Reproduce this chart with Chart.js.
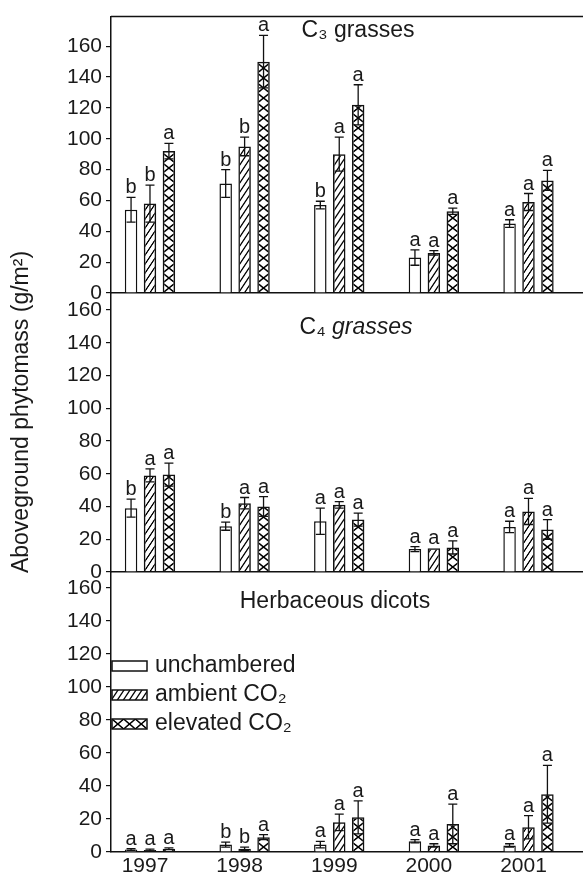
<!DOCTYPE html>
<html><head><meta charset="utf-8">
<script src="https://cdn.jsdelivr.net/npm/chart.js@4.4.1/dist/chart.umd.min.js"></script>
<style>
html,body{margin:0;padding:0;background:#fff;}
#wrap{position:relative;width:583px;height:878px;background:#fff;}
#wrap canvas{position:absolute;left:0;top:0;}
</style></head><body>
<div id="wrap">
<canvas id="c1" width="583" height="878"></canvas>
<canvas id="c2" width="583" height="878"></canvas>
<canvas id="c3" width="583" height="878"></canvas>
</div>
<script>
// ---------- DATA ----------
const years = [1997, 1998, 1999, 2000, 2001];
const yTickValues = [0, 20, 40, 60, 80, 100, 120, 140, 160];
const seriesLabels = ['unchambered', 'ambient CO\u2082', 'elevated CO\u2082'];
const yAxisTitle = 'Aboveground phytomass (g/m\u00B2)';

// C3 grasses
const c3Unchambered = [54, 71, 57, 23, 45];
const c3Ambient     = [58, 95, 90, 26, 59];
const c3Elevated    = [92, 150, 122, 53, 73];
const c3UnchamberedErr = [8, 9, 2.5, 5, 2.5];
const c3AmbientErr     = [12, 6, 11, 1.5, 5.5];
const c3ElevatedErr    = [5, 17, 13, 2, 6.5];
const c3UnchamberedSig = ['b', 'b', 'b', 'a', 'a'];
const c3AmbientSig     = ['b', 'b', 'a', 'a', 'a'];
const c3ElevatedSig    = ['a', 'a', 'a', 'a', 'a'];

// C4 grasses
const c4Unchambered = [39, 28, 31, 14, 27.5];
const c4Ambient     = [59, 42, 41, 14.5, 37];
const c4Elevated    = [59.5, 40, 32, 15, 26];
const c4UnchamberedErr = [5.5, 2.5, 8, 1.5, 3.5];
const c4AmbientErr     = [4, 3.5, 2, 0, 8];
const c4ElevatedErr    = [7, 6, 4, 4, 6];
const c4UnchamberedSig = ['b', 'b', 'a', 'a', 'a'];
const c4AmbientSig     = ['a', 'a', 'a', 'a', 'a'];
const c4ElevatedSig    = ['a', 'a', 'a', 'a', 'a'];

// Herbaceous dicots
const dicUnchambered = [1.5, 4.5, 4.5, 6.5, 4];
const dicAmbient     = [1.2, 2, 18, 4, 15];
const dicElevated    = [2, 9, 21, 17, 35];
const dicUnchamberedErr = [0.5, 1.5, 2, 1, 1];
const dicAmbientErr     = [0.5, 1, 5, 1, 7];
const dicElevatedErr    = [0.5, 1.5, 10, 12, 17.5];
const dicUnchamberedSig = ['a', 'b', 'a', 'a', 'a'];
const dicAmbientSig     = ['a', 'b', 'a', 'a', 'a'];
const dicElevatedSig    = ['a', 'a', 'a', 'a', 'a'];

// ---------- STYLE / LAYOUT ----------
const FONT = "'Liberation Sans', Arial, Helvetica, sans-serif";
const INK = '#1a1a1a';
const CAT_PCT = 0.6, BAR_PCT = 0.66;
const AXIS_LEFT = 111;
const X_MIN = 1996.588, X_MAX = 2001.576;
Chart.defaults.font.family = FONT;
Chart.defaults.color = INK;

// pattern tiles (drawn at 2x)
function makeTile(kind) {
  const c = document.createElement('canvas');
  const g = c.getContext('2d');
  g.strokeStyle = '#111';
  g.lineCap = 'butt';
  if (kind === 'amb') {
    c.width = 24; c.height = 18;
    g.lineWidth = 2.6;
    [-36, -18, 0, 18, 36, 54, 72].forEach(cc => {
      g.beginPath(); g.moveTo(-2, cc + 3); g.lineTo(26, cc - 39); g.stroke();
    });
  } else {
    c.width = 26; c.height = 20;
    g.lineWidth = 3;
    for (const dx of [-26, 0, 26]) for (const dy of [-20, 0, 20]) {
      g.beginPath(); g.moveTo(dx, dy); g.lineTo(dx + 26, dy + 20); g.stroke();
      g.beginPath(); g.moveTo(dx + 26, dy); g.lineTo(dx, dy + 20); g.stroke();
    }
  }
  return c;
}
const tiles = { amb: makeTile('amb'), elev: makeTile('elev') };
function makePattern(ctx, kind, left, top, w) {
  const p = ctx.createPattern(tiles[kind], 'repeat');
  const sx = kind === 'elev' ? w / 26 : 0.5;
  p.setTransform(new DOMMatrix([sx, 0, 0, 0.5, left, top]));
  return p;
}

function barFill(kind) {
  return (c) => {
    if (kind === 'none') return '#ffffff';
    const chart = c.chart, xs = chart.scales.x, ys = chart.scales.y;
    if (c.type !== 'data' || !xs || !ys) return '#ffffff';
    const px = xs.getPixelForValue(years[c.dataIndex]);
    const step = xs.getPixelForValue(years[1]) - xs.getPixelForValue(years[0]);
    const chunk = step * CAT_PCT / 3;
    const w = chunk * BAR_PCT;
    const center = px - 1.5 * chunk + chunk * (c.datasetIndex + 0.5);
    return makePattern(chart.ctx, kind, center - w / 2, ys.getPixelForValue(0), w);
  };
}

const kinds = ['none', 'amb', 'elev'];

function makeDatasets(vals, errs, sigs) {
  return vals.map((arr, k) => ({
    label: seriesLabels[k],
    data: arr.map((v, i) => ({ x: years[i], y: v })),
    errors: errs[k],
    letters: sigs[k],
    backgroundColor: barFill(kinds[k]),
    borderColor: '#111',
    borderWidth: 1.5,
    borderSkipped: 'bottom',
    categoryPercentage: CAT_PCT,
    barPercentage: BAR_PCT
  }));
}

const errorBarPlugin = {
  id: 'errorBars',
  afterDatasetsDraw(chart) {
    const ctx = chart.ctx, ys = chart.scales.y;
    chart.data.datasets.forEach((ds, di) => {
      const meta = chart.getDatasetMeta(di);
      meta.data.forEach((bar, i) => {
        const v = ds.data[i].y, e = ds.errors[i];
        const x = bar.x;
        const yTop = ys.getPixelForValue(v + e);
        const yBot = ys.getPixelForValue(Math.max(0, v - e));
        ctx.save();
        ctx.strokeStyle = '#111'; ctx.lineWidth = 1.3;
        if (e > 0) {
          ctx.beginPath();
          ctx.moveTo(x, yBot); ctx.lineTo(x, yTop);
          ctx.moveTo(x - 4.5, yTop); ctx.lineTo(x + 4.5, yTop);
          ctx.moveTo(x - 4.5, yBot); ctx.lineTo(x + 4.5, yBot);
          ctx.stroke();
        }
        ctx.fillStyle = INK;
        ctx.font = '20px ' + FONT;
        ctx.textAlign = 'center'; ctx.textBaseline = 'alphabetic';
        ctx.fillText(ds.letters[i], x, yTop - 4);
        ctx.restore();
      });
    });
  }
};

const framePlugin = {
  id: 'frame',
  afterDraw(chart, args, opts) {
    const ctx = chart.ctx, a = chart.chartArea;
    ctx.save();
    ctx.fillStyle = INK;
    ctx.textBaseline = 'middle';
    if (opts.title) {
      let total = 0;
      opts.title.forEach(s => { ctx.font = s.font; total += ctx.measureText(s.text).width; });
      let x = opts.titleX - total / 2;
      opts.title.forEach(s => {
        ctx.font = s.font; ctx.textAlign = 'left';
        ctx.fillText(s.text, x, opts.titleY + (s.dy || 0));
        x += ctx.measureText(s.text).width;
      });
    }
    if (opts.topBorder) {
      ctx.strokeStyle = '#111'; ctx.lineWidth = 1.5;
      ctx.beginPath(); ctx.moveTo(a.left, a.top); ctx.lineTo(a.right, a.top); ctx.stroke();
    }
    if (opts.yTitle) {
      ctx.save();
      ctx.translate(opts.yTitle.x, opts.yTitle.y);
      ctx.rotate(-Math.PI / 2);
      ctx.font = '23px ' + FONT; ctx.textAlign = 'center';
      ctx.fillText(opts.yTitle.text, 0, 0);
      ctx.restore();
    }
    if (opts.legend) {
      const L = opts.legend;
      seriesLabels.forEach((lab, k) => {
        const cy = L.y + k * L.gap;
        const x0 = L.x, y0 = cy - L.h / 2;
        if (kinds[k] === 'none') ctx.fillStyle = '#fff';
        else ctx.fillStyle = makePattern(ctx, kinds[k], x0, y0, L.w / 3);
        ctx.fillRect(x0, y0, L.w, L.h);
        ctx.strokeStyle = '#111'; ctx.lineWidth = 1.5;
        ctx.strokeRect(x0, y0, L.w, L.h);
        ctx.fillStyle = INK; ctx.font = '23px ' + FONT; ctx.textAlign = 'left';
        ctx.fillText(lab, x0 + L.w + 8, cy);
      });
    }
    ctx.restore();
  }
};

function buildPanel(id, vals, errs, sigs, top, bottom, yMax, showX, frameOpts) {
  const xH = showX ? 26 : 0;
  return new Chart(document.getElementById(id), {
    type: 'bar',
    data: { datasets: makeDatasets(vals, errs, sigs) },
    options: {
      responsive: false, animation: false, devicePixelRatio: 1, events: [],
      layout: { padding: { left: 0, right: 0, top: top, bottom: 878 - bottom - xH } },
      plugins: { legend: { display: false }, tooltip: { enabled: false }, frame: frameOpts },
      scales: {
        x: {
          type: 'linear', min: X_MIN, max: X_MAX, offset: false,
          afterBuildTicks: s => { s.ticks = years.map(v => ({ value: v })); },
          afterFit: s => { s.height = xH; },
          ticks: { display: showX, autoSkip: false, maxRotation: 0, padding: 2, labelOffset: -5,
                   font: { size: 21 }, color: INK, callback: v => String(v) },
          grid: { display: false, drawTicks: false, offset: false },
          border: { display: true, color: '#111', width: 1.5 }
        },
        y: {
          min: 0, max: yMax,
          afterBuildTicks: s => { s.ticks = yTickValues.map(v => ({ value: v })); },
          afterFit: s => { s.width = AXIS_LEFT; },
          ticks: { font: { size: 21 }, color: INK, padding: 4 },
          grid: { display: true, drawOnChartArea: false, drawTicks: true, tickLength: 5, color: '#111', lineWidth: 1.2 },
          border: { display: true, color: '#111', width: 1.5 }
        }
      }
    },
    plugins: [errorBarPlugin, framePlugin]
  });
}

buildPanel('c1',
  [c3Unchambered, c3Ambient, c3Elevated],
  [c3UnchamberedErr, c3AmbientErr, c3ElevatedErr],
  [c3UnchamberedSig, c3AmbientSig, c3ElevatedSig],
  13, 293, 179.2, false,
  { topBorder: true, titleX: 358, titleY: 31,
    title: [{ text: 'C\u2083 grasses', font: '23px ' + FONT }] });

buildPanel('c2',
  [c4Unchambered, c4Ambient, c4Elevated],
  [c4UnchamberedErr, c4AmbientErr, c4ElevatedErr],
  [c4UnchamberedSig, c4AmbientSig, c4ElevatedSig],
  293, 572, 170.4, false,
  { titleX: 356, titleY: 328,
    title: [{ text: 'C\u2084 ', font: '23px ' + FONT }, { text: 'grasses', font: 'italic 23px ' + FONT }],
    yTitle: { text: yAxisTitle, x: 22, y: 412 } });

buildPanel('c3',
  [dicUnchambered, dicAmbient, dicElevated],
  [dicUnchamberedErr, dicAmbientErr, dicElevatedErr],
  [dicUnchamberedSig, dicAmbientSig, dicElevatedSig],
  572, 852, 169.7, true,
  { titleX: 335, titleY: 602,
    title: [{ text: 'Herbaceous dicots', font: '23px ' + FONT }],
    legend: { x: 112, y: 666, gap: 29, w: 35, h: 10 } });
</script>
</body></html>
